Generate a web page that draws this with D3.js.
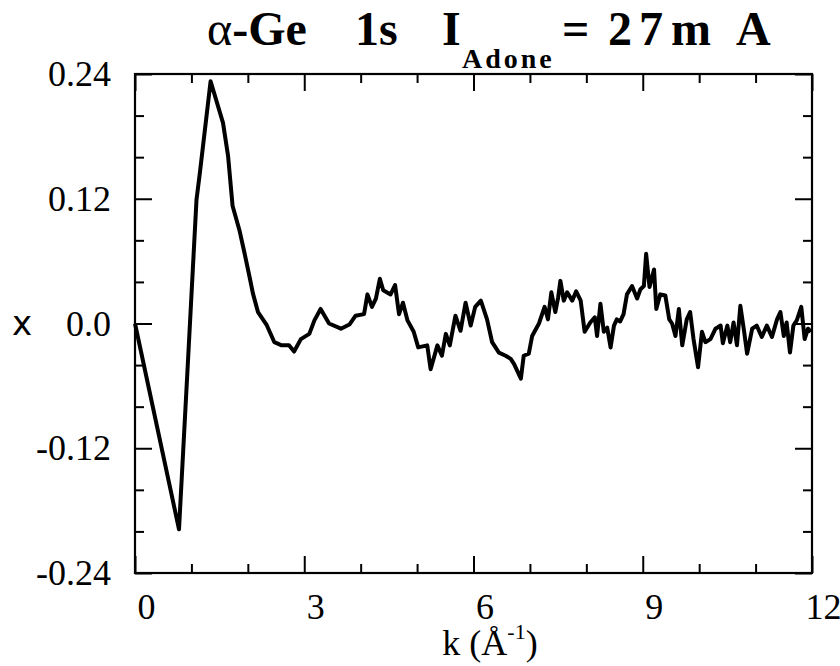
<!DOCTYPE html>
<html>
<head>
<meta charset="utf-8">
<script src="https://cdn.jsdelivr.net/npm/d3@7"></script>
</head>
<body style="margin:0">
<svg width="840" height="666"></svg>
<script>
// chi(k)
var kValues = [0, 0.78, 0.94, 1.09, 1.15, 1.34, 1.56, 1.65, 1.73, 1.85, 1.94, 2.03, 2.09, 2.18, 2.33, 2.47,
  2.6, 2.73, 2.82, 2.94, 3.09, 3.18, 3.29, 3.44, 3.65, 3.8, 3.91, 4.06, 4.12, 4.2, 4.27, 4.34, 4.4,
  4.53, 4.61, 4.68, 4.75, 4.83, 4.94, 5.02, 5.18, 5.24, 5.36, 5.44, 5.51, 5.58, 5.68, 5.77, 5.86,
  5.95, 6.03, 6.13, 6.24, 6.33, 6.45, 6.57, 6.66, 6.72, 6.84, 6.89, 6.98, 7.04, 7.16, 7.26, 7.32,
  7.38, 7.45, 7.5, 7.54, 7.6, 7.66, 7.75, 7.82, 7.9, 7.97, 8.07, 8.15, 8.19, 8.25, 8.31, 8.37, 8.43,
  8.49, 8.54, 8.6, 8.66, 8.72, 8.81, 8.9, 8.96, 9.02, 9.06, 9.12, 9.2, 9.24, 9.31, 9.4, 9.47, 9.52,
  9.58, 9.64, 9.7, 9.78, 9.84, 9.9, 9.98, 10.05, 10.11, 10.2, 10.29, 10.38, 10.42, 10.5, 10.55,
  10.61, 10.67, 10.73, 10.79, 10.85, 10.94, 11.02, 11.11, 11.2, 11.29, 11.38, 11.44, 11.5, 11.55,
  11.61, 11.67, 11.73, 11.81, 11.87, 11.93, 11.98]
var chiValues = [0, -0.198, -0.035, 0.119, 0.145, 0.233, 0.193, 0.161, 0.113, 0.09, 0.068, 0.045, 0.029, 0.011, -0.001, -0.018,
  -0.021, -0.021, -0.027, -0.015, -0.01, 0.003, 0.014, 0, -0.005, -0.001, 0.0075, 0.009, 0.028, 0.016, 0.024, 0.043, 0.032,
  0.028, 0.037, 0.009, 0.02, 0.003, -0.008, -0.023, -0.021, -0.044, -0.021, -0.031, -0.01, -0.021, 0.0075, -0.007, 0.02,
  -0.002, 0.016, 0.022, 0.004, -0.018, -0.028, -0.031, -0.034, -0.039, -0.053, -0.031, -0.029, -0.012, 0, 0.016, 0.004,
  0.03, 0.011, 0.025, 0.041, 0.022, 0.03, 0.022, 0.031, 0.022, -0.008, 0.001, 0.006, -0.012, 0.019, -0.008, -0.004, -0.023,
  -0.002, 0.004, 0.002, 0.009, 0.028, 0.036, 0.024, 0.033, 0.036, 0.067, 0.035, 0.052, 0.014, 0.028, 0.027, 0.004, 0,
  -0.012, 0.014, -0.021, 0.004, 0.011, -0.015, -0.042, -0.008, -0.018, -0.015, -0.005, -0.002, -0.019, -0.002, -0.018,
  0.001, -0.021, 0.017, -0.005, -0.029, -0.005, -0.002, -0.013, -0.002, -0.013, 0.004, 0.011, -0.012, 0.001,
  -0.028, -0.002, 0.003, 0.016, -0.015, -0.005, -0.008]

var xMajor = [0, 3, 6, 9, 12]
var xMinor = [1, 2, 4, 5, 7, 8, 10, 11]
var yMajor = [-0.24, -0.12, 0, 0.12, 0.24]
var yMajorLabels = ["-0.24", "-0.12", "0.0", "0.12", "0.24"]
var yMinor = [-0.2, -0.16, -0.08, -0.04, 0.04, 0.08, 0.16, 0.2]

var SERIF = "Liberation Serif"

var margin = {top: 74, right: 28, bottom: 93, left: 135}
var width = 840 - margin.left - margin.right
var height = 666 - margin.top - margin.bottom

var svg = d3.select("svg").attr("font-family", SERIF)
var chart = svg.append("g").attr("transform", `translate(${margin.left},${margin.top})`)

var xScale = d3.scaleLinear().domain([0, 12]).range([0, width])
var yScale = d3.scaleLinear().domain([-0.24, 0.24]).range([height, 0])

// frame
chart.append("rect").attr("width", width).attr("height", height)
  .attr("fill", "none").attr("stroke", "#000").attr("stroke-width", 2.2)

function addAxis(axis, tr) {
  var g = chart.append("g").attr("transform", tr).call(axis)
  g.attr("font-family", SERIF).attr("font-size", 36)
  g.select(".domain").remove()
  g.selectAll("line").attr("stroke", "#000").attr("stroke-width", 2)
  g.selectAll("text").attr("font-family", SERIF).attr("font-size", 36).attr("fill", "#000")
  return g
}

addAxis(d3.axisBottom(xScale).tickValues(xMajor).tickSize(-17).tickPadding(20).tickFormat(d3.format("d")), `translate(0,${height})`)
  .selectAll("text").attr("dx", 11)
addAxis(d3.axisBottom(xScale).tickValues(xMinor).tickSize(-9).tickFormat(""), `translate(0,${height})`)
addAxis(d3.axisTop(xScale).tickValues(xMajor).tickSize(-17).tickFormat(""), "translate(0,0)")
addAxis(d3.axisTop(xScale).tickValues(xMinor).tickSize(-9).tickFormat(""), "translate(0,0)")
addAxis(d3.axisLeft(yScale).tickValues(yMajor).tickSize(-17).tickPadding(24).tickFormat((d, i) => yMajorLabels[i]), "translate(0,0)")
addAxis(d3.axisLeft(yScale).tickValues(yMinor).tickSize(-9).tickFormat(""), "translate(0,0)")
addAxis(d3.axisRight(yScale).tickValues(yMajor).tickSize(-17).tickFormat(""), `translate(${width},0)`)
addAxis(d3.axisRight(yScale).tickValues(yMinor).tickSize(-9).tickFormat(""), `translate(${width},0)`)

var lineGen = d3.line().x(d => xScale(d[0])).y(d => yScale(d[1]))
chart.append("path")
  .datum(d3.zip(kValues, chiValues))
  .attr("d", lineGen)
  .attr("fill", "none").attr("stroke", "#000").attr("stroke-width", 4)
  .attr("stroke-linejoin", "round")

// title
var title = svg.append("text").attr("y", 45)
  .attr("font-family", SERIF).attr("font-weight", "bold").attr("font-size", 48)
title.append("tspan").attr("x", 207).attr("font-weight", "normal").text("α")
title.append("tspan").text("-Ge")
title.append("tspan").attr("x", 355).text("1s")
title.append("tspan").attr("x", 442).text("I")
title.append("tspan").attr("x", 462).attr("y", 68).attr("font-size", 28).attr("letter-spacing", 3).text("Adone")
title.append("tspan").attr("x", 562).attr("y", 45).text("=")
title.append("tspan").attr("x", 608).text("2")
title.append("tspan").attr("x", 639).text("7")
title.append("tspan").attr("x", 671).text("m")
title.append("tspan").attr("x", 736).text("A")

// axis labels
var xLabel = svg.append("text").attr("x", 490).attr("y", 655).attr("text-anchor", "middle")
  .attr("font-family", SERIF).attr("font-size", 36)
xLabel.append("tspan").text("k (Å")
xLabel.append("tspan").attr("dy", -16).attr("font-size", 22).text("-1")
xLabel.append("tspan").attr("dy", 16).text(")")

svg.append("text").attr("x", 22).attr("y", 324).attr("text-anchor", "middle").attr("dy", "0.32em")
  .attr("font-family", "DejaVu Sans").attr("font-size", 34).text("x")
</script>
</body>
</html>
